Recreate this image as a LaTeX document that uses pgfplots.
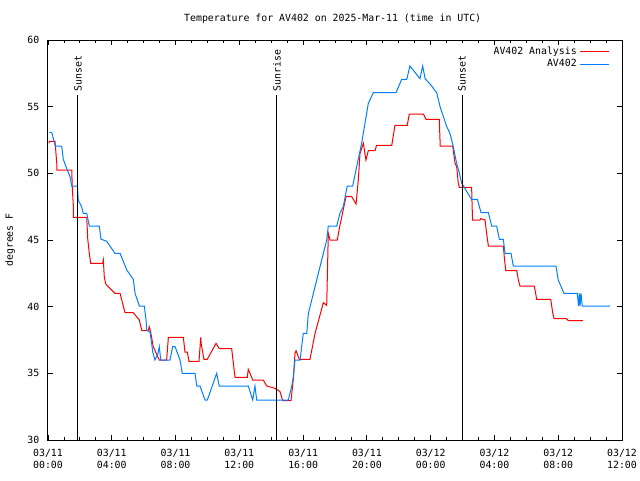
\documentclass[border=0pt]{standalone}
\usepackage{fontspec}
\setmainfont{DejaVu Sans Mono}
\usepackage{pgfplots}
\pgfplotsset{compat=1.18}
\definecolor{anared}{rgb}{1,0,0}
\definecolor{obsblue}{rgb}{0,0.5,1}
\newcommand{\gfont}{\fontsize{7.4}{9.4}\selectfont}
\begin{document}
\begin{tikzpicture}
\path[use as bounding box] (-36pt,-30pt) rectangle (444pt,330pt);
\begin{axis}[
    at={(0,0)}, anchor=south west,
    scale only axis,
    width=430.5pt, height=300pt,
    xmin=0, xmax=36, ymin=30, ymax=60,
    xtick={0,4,...,36},
    xticklabels={{03/11\\00:00},{03/11\\04:00},{03/11\\08:00},{03/11\\12:00},{03/11\\16:00},{03/11\\20:00},{03/12\\00:00},{03/12\\04:00},{03/12\\08:00},{03/12\\12:00}},
    minor x tick num=3,
    ytick={30,35,...,60},
    tick align=inside,
    major tick length=3.75pt,
    minor tick length=1.9pt,
    tick style={black, line width=0.6pt},
    axis line style={line width=0.75pt},
    /pgf/number format/assume math mode=true,
    tick label style={font=\gfont},
    x tick label style={align=center, yshift=-3pt},
    y tick label style={xshift=-3pt},
    ylabel={degrees F},
    ylabel style={at={(axis description cs:-0.066,0.5)}, anchor=center, font=\gfont},
    legend style={draw=none, fill=none, at={(rel axis cs:1,1)}, anchor=north east,
        xshift=-9.5pt, yshift=-3pt, inner sep=0pt, row sep=-1.8pt,
        font=\gfont},
    legend cell align=right,
    legend plot pos=right,
    legend image code/.code={\draw[#1] (0pt,0pt) -- (21.5pt,0pt);},
    clip=false,
]
\addplot[anared, line width=0.75pt] coordinates {
(0.06,52.25) (0.09,52.4) (0.44,52.4) (0.55,50.75) (0.55,50.25) (1.49,50.25)
(1.52,49.0) (1.59,47.55) (1.59,46.7) (2.43,46.7) (2.49,45.1) (2.59,44.0)
(2.68,43.25) (3.43,43.25) (3.47,43.5) (3.53,42.25) (3.62,41.7) (4.20,41.0)
(4.52,41.0) (4.83,39.55) (5.35,39.55) (5.73,39.0) (5.88,38.2) (6.29,38.2)
(6.35,38.5) (6.44,38.1) (6.60,37.0) (6.98,36.0) (7.44,36.0) (7.55,37.7)
(8.49,37.7) (8.59,36.6) (8.74,36.6) (8.84,35.9) (9.47,35.9) (9.58,37.7)
(9.61,37.2) (9.78,36.05) (9.99,36.05) (10.54,37.25) (10.74,36.85) (11.52,36.85)
(11.62,35.8) (11.73,34.7) (12.50,34.7) (12.56,35.3) (12.84,34.5) (13.50,34.5)
(13.72,34.05) (14.18,33.9) (14.34,33.8) (14.55,33.63) (14.72,32.95) (15.24,32.95)
(15.39,34.6) (15.49,36.5) (15.56,36.7) (15.76,36.05) (16.43,36.05) (16.75,38.0)
(17.27,40.3) (17.48,40.1) (17.58,45.5) (17.69,45.0) (18.14,45.0) (18.31,46.1)
(18.69,48.25) (19.05,48.25) (19.32,47.7) (19.46,49.5) (19.57,51.5) (19.78,52.25)
(19.94,51.0) (20.09,51.7) (20.51,51.7) (20.61,52.1) (21.56,52.1) (21.76,53.6)
(22.53,53.6) (22.66,54.45) (23.54,54.45) (23.71,54.05) (24.54,54.05) (24.60,52.05)
(25.38,52.05) (25.53,50.75) (25.63,50.5) (25.73,49.3) (25.80,48.95) (26.57,48.95)
(26.60,47.5) (26.63,46.5) (27.09,46.5) (27.14,46.6) (27.41,46.5) (27.51,45.5)
(27.62,44.55) (28.56,44.55) (28.62,43.7) (28.71,42.7) (29.40,42.7) (29.50,42.0)
(29.60,41.55) (30.50,41.55) (30.65,40.55) (31.53,40.55) (31.66,39.5) (31.74,39.1)
(32.53,39.1) (32.63,38.95) (33.54,38.95)
};
\addlegendentry{AV402 Analysis}
\addplot[obsblue, line width=0.75pt] coordinates {
(0.08,53.08) (0.23,53.08) (0.46,52.05) (0.86,52.05) (0.96,51.05) (1.17,50.37)
(1.38,49.75) (1.49,49.05) (1.84,49.05) (1.90,48.0) (2.11,47.5) (2.21,47.0)
(2.43,47.0) (2.59,46.05) (3.22,46.05) (3.32,45.07) (3.68,44.9) (4.20,44.0)
(4.52,44.0) (4.94,42.75) (5.35,42.05) (5.46,41.0) (5.73,40.05) (6.04,40.05)
(6.15,39.0) (6.19,38.25) (6.40,38.1) (6.50,37.25) (6.57,36.6) (6.71,36.0)
(6.90,36.5) (6.98,37.0) (7.07,36.0) (7.65,36.0) (7.82,37.0) (7.97,37.0)
(8.28,36.0) (8.42,35.0) (9.22,35.0) (9.33,34.05) (9.53,34.05) (9.85,33.0)
(9.99,33.0) (10.58,35.0) (10.74,34.05) (12.56,34.05) (12.84,33.0) (12.98,34.05)
(13.09,33.0) (15.07,33.0) (15.28,34.0) (15.39,34.75) (15.49,36.0) (15.81,36.0)
(16.01,38.0) (16.23,38.0) (16.33,39.5) (17.27,44.0) (17.48,45.0) (17.58,46.05)
(18.11,46.05) (18.31,47.0) (18.52,47.5) (18.77,49.05) (19.11,49.05) (19.36,50.5)
(19.67,52.25) (19.88,53.75) (20.09,55.25) (20.40,56.05) (21.83,56.05) (22.18,57.05)
(22.50,57.05) (22.70,58.05) (23.33,57.1) (23.50,58.05) (23.65,57.1) (23.96,56.7)
(24.38,56.05) (24.59,55.0) (25.01,53.5) (25.21,53.0) (25.42,52.0) (25.63,50.75)
(25.75,50.25) (25.95,49.25) (26.46,48.25) (26.57,48.05) (26.93,48.05) (27.16,47.05)
(27.62,47.05) (27.83,46.05) (28.14,46.05) (28.31,45.05) (28.56,45.05) (28.66,44.0)
(29.04,44.0) (29.18,43.05) (31.86,43.05) (32.00,42.0) (32.36,41.0) (33.20,41.0)
(33.27,40.05) (33.33,41.0) (33.37,40.05) (33.43,41.0) (33.51,40.05) (35.26,40.05)
};
\addlegendentry{AV402}
\foreach \t/\lab in {1.88/Sunset, 14.36/Sunrise, 25.97/Sunset} {
  \edef\tmp{\noexpand\draw[black, line width=0.75pt] (axis cs:\t,30) -- (axis cs:\t,55.9);
    \noexpand\node[rotate=90, anchor=west, inner sep=1.5pt, font=\noexpand\gfont] at (axis cs:\t,56.0) {\lab};}
  \tmp
}
\node[anchor=south, font=\gfont, inner sep=0pt] at ([yshift=12.5pt]rel axis cs:0.496,1) {Temperature for AV402 on 2025-Mar-11 (time in UTC)};
\end{axis}
\end{tikzpicture}
\end{document}
